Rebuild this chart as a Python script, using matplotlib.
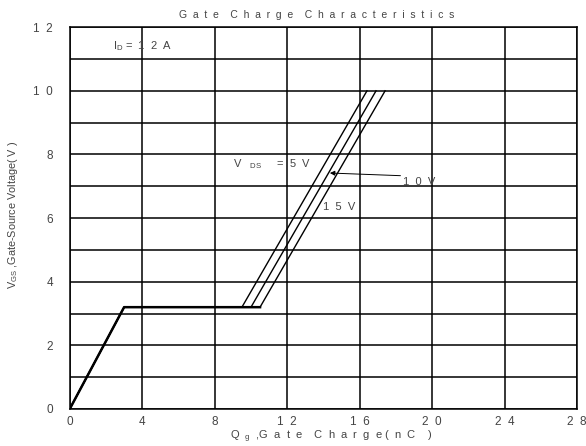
import matplotlib
matplotlib.use("Agg")
import matplotlib.pyplot as plt

# gate charge curves (Qg in nC, Vgs in V), ID = 12A
vgs = [0, 3.2, 3.2, 10]
qg_5v = [0, 3.0, 9.5, 16.4]
qg_10v = [0, 3.0, 10.0, 16.9]
qg_15v = [0, 3.0, 10.5, 17.4]

x_ticks = [0, 4, 8, 12, 16, 20, 24, 28]
x_labels = ["0", "4", "8", "1  2", "1  6", "2  0", "2  4", "2  8"]
y_ticks = [0, 2, 4, 6, 8, 10, 12]
y_labels = ["0", "2", "4", "6", "8", "1  0", "1  2"]

plt.rcParams['font.family'] = ['Liberation Sans', 'DejaVu Sans']
plt.rcParams['mathtext.fontset'] = 'custom'
plt.rcParams['mathtext.rm'] = 'Liberation Sans'
plt.rcParams['mathtext.it'] = 'Liberation Sans'
txt = '#444444'

fig = plt.figure(figsize=(5.86, 4.46), dpi=100)
ax = fig.add_axes([0.119, 0.083, 0.866, 0.856])

# grid: every 4 nC and every 1 V
for x in range(0, 29, 4):
    ax.axvline(x, color='black', lw=1.1, zorder=1)
for y in range(0, 13):
    ax.axhline(y, color='black', lw=1.1, zorder=1)

for q in (qg_5v, qg_10v, qg_15v):
    ax.plot(q, vgs, color='black', lw=1.0, zorder=3)
ax.plot(qg_15v[:3], vgs[:3], color='black', lw=1.8, zorder=3)

ax.set_xlim(0, 28)
ax.set_ylim(0, 12)
ax.set_xticks(x_ticks)
ax.set_xticklabels(x_labels)
ax.set_yticks(y_ticks)
ax.set_yticklabels(y_labels)
ax.tick_params(length=0, labelsize=8.5, labelcolor=txt)
ax.tick_params(axis='x', pad=5)
ax.tick_params(axis='y', pad=12)
for s in ax.spines.values():
    s.set_linewidth(1.1)

ax.text(2.4, 11.4, "I$_{D}$ =  1  2  A", fontsize=8, color=txt, va='center')
ax.text(9.0, 7.7, "V   $_{DS}$     =  5  V", fontsize=8, color=txt, va='center')
ax.text(18.4, 7.15, "1  0  V", fontsize=8, color=txt, va='center')
ax.text(14.0, 6.35, "1  5  V", fontsize=8, color=txt, va='center')
ax.annotate("", xy=(14.2, 7.42), xytext=(18.4, 7.33),
            arrowprops=dict(arrowstyle='-|>', color='black', lw=0.7,
                            mutation_scale=7))

fig.text(0.54, 0.967, "G  a  t  e    C  h  a  r  g  e    C  h  a  r  a  c  t  e  r  i  s  t  i  c  s",
         fontsize=7.5, color=txt, ha='center', va='center')
fig.text(0.565, 0.02, "Q  $_{g}$  ,G  a  t  e    C  h  a  r  g  e (  n  C    )", fontsize=8,
         color=txt, ha='center', va='center')
fig.text(0.022, 0.518, "V$_{GS}$ ,Gate-Source Voltage( V )", fontsize=7.8,
         color=txt, ha='center', va='center', rotation=90)

fig.savefig("out.png", dpi=100)
